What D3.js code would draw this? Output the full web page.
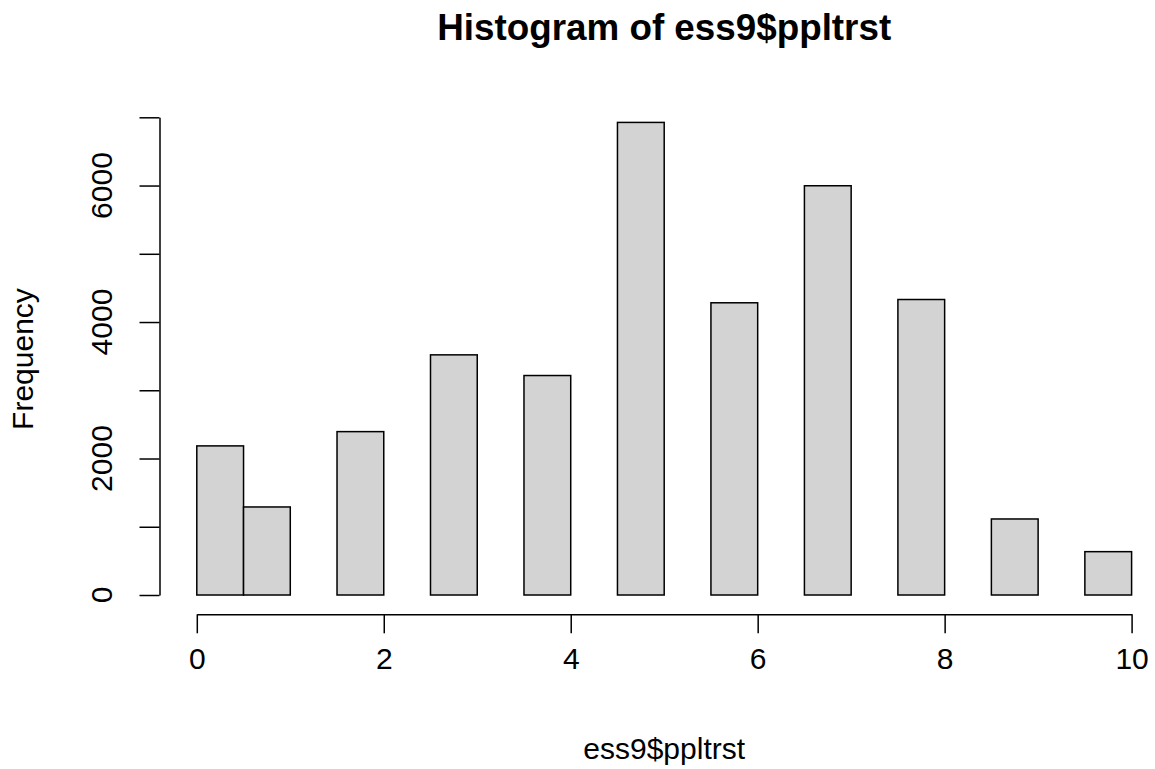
<!DOCTYPE html>
<html>
<head>
<meta charset="utf-8">
<script src="https://cdn.jsdelivr.net/npm/d3@7"></script>
<style>
  html, body { margin: 0; padding: 0; background: #fff; }
  svg { display: block; font-family: "Liberation Sans", Arial, Helvetica, sans-serif; }
</style>
</head>
<body>
<svg id="chart" width="1155" height="769"></svg>
<script>
// Data
const binEdges = [0, 0.5, 1, 1.5, 2, 2.5, 3, 3.5, 4, 4.5, 5, 5.5, 6, 6.5, 7, 7.5, 8, 8.5, 9, 9.5, 10];
const counts   = [2185, 1290, 0, 2394, 0, 3519, 0, 3216, 0, 6925, 0, 4282, 0, 5997, 0, 4330, 0, 1114, 0, 635];
const xTicks = [0, 2, 4, 6, 8, 10];
const yTicks = [0, 1000, 2000, 3000, 4000, 5000, 6000, 7000];
const yLabels = [0, 2000, 4000, 6000];
const titleText = "Histogram of ess9$ppltrst";
const xLabelText = "ess9$ppltrst";
const yLabelText = "Frequency";

const svg = d3.select("#chart");
const x = d3.scaleLinear().domain([0, 10]).range([196.8, 1131.6]);
const y = d3.scaleLinear().domain([0, 7000]).range([595, 117.3]);

const bins = counts.map((c, i) => ({ x0: binEdges[i], x1: binEdges[i + 1], c }));

// Bars
svg.append("g").selectAll("rect").data(bins).join("rect")
  .attr("x", d => x(d.x0))
  .attr("y", d => y(d.c))
  .attr("width", d => x(d.x1) - x(d.x0))
  .attr("height", d => y(0) - y(d.c))
  .attr("fill", "#d3d3d3")
  .attr("stroke", "#000")
  .attr("stroke-width", 1.5);

// X axis
const gx = svg.append("g").attr("transform", "translate(0,614.3)")
  .call(d3.axisBottom(x).tickValues(xTicks).tickSizeOuter(0).tickSizeInner(19).tickPadding(14).tickFormat(d3.format("d")));
gx.select(".domain").attr("stroke-width", 1.5);
gx.selectAll(".tick line").attr("stroke-width", 1.5);
gx.selectAll(".tick text").attr("font-size", 30).attr("fill", "#000")
  .attr("font-family", "Liberation Sans, Arial, sans-serif");

// Y axis
const gy = svg.append("g").attr("transform", "translate(159.5,0)")
  .call(d3.axisLeft(y).tickValues(yTicks).tickSizeOuter(0).tickSizeInner(20).tickFormat(""));
gy.select(".domain").attr("stroke-width", 1.5);
gy.selectAll(".tick line").attr("stroke-width", 1.5);
gy.selectAll(".ylab").data(yLabels).join("text")
  .attr("class", "ylab")
  .attr("transform", d => `translate(-48,${y(d)}) rotate(-90)`)
  .attr("text-anchor", "middle")
  .attr("font-size", 30)
  .attr("fill", "#000")
  .text(d => d);

// Title
svg.append("text")
  .attr("x", x(5)).attr("y", 40)
  .attr("text-anchor", "middle")
  .attr("font-size", 36.8)
  .attr("font-weight", "bold")
  .text(titleText);

// X label
svg.append("text")
  .attr("x", x(5)).attr("y", 759)
  .attr("text-anchor", "middle")
  .attr("font-size", 30)
  .text(xLabelText);

// Y label
svg.append("text")
  .attr("transform", `translate(33,359) rotate(-90)`)
  .attr("text-anchor", "middle")
  .attr("font-size", 30)
  .text(yLabelText);
</script>
</body>
</html>
